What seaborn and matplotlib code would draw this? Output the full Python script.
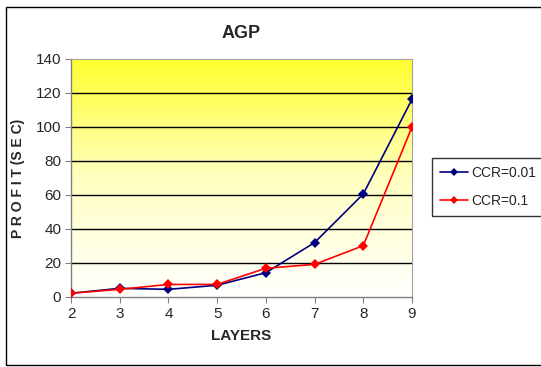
import numpy as np
import pandas as pd
import matplotlib
matplotlib.use("Agg")
import matplotlib.pyplot as plt
import seaborn as sns
from matplotlib.colors import LinearSegmentedColormap
from matplotlib.patches import Rectangle
from matplotlib.lines import Line2D

layers = [2, 3, 4, 5, 6, 7, 8, 9]
ccr_001 = [2.2, 5.1, 4.5, 6.9, 14.3, 32, 60.6, 116.3]
ccr_01 = [2.2, 4.5, 7.4, 7.4, 16.9, 19.2, 30.2, 100]
series_names = ["CCR=0.01", "CCR=0.1"]
colors = ["#000080", "#FF0000"]

df = pd.DataFrame({
    "layers": layers * 2,
    "profit": ccr_001 + ccr_01,
    "series": [series_names[0]] * len(layers) + [series_names[1]] * len(layers),
})

sns.set_style("white")
plt.rcParams['font.family'] = ['Liberation Sans', 'DejaVu Sans']

fig = plt.figure(figsize=(5.41, 3.67), dpi=100)
ax = fig.add_axes([71/541, 1-297/367, (412-71)/541, (297-59)/367])

# gradient background
cmap = LinearSegmentedColormap.from_list("yw", ["#FFFFFF", "#FFFFC0", "#FFFF30"])
grad = np.linspace(0, 1, 256).reshape(-1, 1)
ax.imshow(grad, cmap=cmap, aspect="auto", extent=[0, 1, 0, 1],
          transform=ax.transAxes, origin="lower", zorder=0)

for v in range(20, 140, 20):
    ax.axhline(v, color="black", lw=1, zorder=1)

sns.lineplot(data=df, x="layers", y="profit", hue="series", palette=colors,
             marker="D", markersize=5, markeredgewidth=0, lw=1.2, ax=ax,
             legend=False, zorder=3)

ax.set_xlim(2, 9)
ax.set_ylim(0, 140)
ax.set_xticks(layers)
ax.set_yticks(range(0, 141, 20))
ax.tick_params(axis="both", direction="out", length=4, width=0.8, color="#808080",
               labelsize=11, pad=3, bottom=True, left=True)
for s in ["left", "bottom"]:
    ax.spines[s].set_color("#808080")
    ax.spines[s].set_linewidth(1)
for s in ["top", "right"]:
    ax.spines[s].set_color("#A0A0A0")
    ax.spines[s].set_linewidth(0.8)

ax.set_xlabel("LAYERS", fontsize=11, fontweight="bold", labelpad=6)
ax.set_ylabel("P R O F I T (S E C)", fontsize=10, fontweight="bold", labelpad=8)
ax.set_title("AGP", fontsize=13, fontweight="bold", pad=15)

handles = [Line2D([], [], color=c, marker="D", markersize=4, lw=1.2, markeredgewidth=0)
           for c in colors]
fig.legend(handles, series_names, loc="center left", bbox_to_anchor=(432/541, 1-187/367),
           frameon=True, fancybox=False, edgecolor="black", fontsize=10,
           handlelength=2.0, borderpad=0.6, labelspacing=1.0, handletextpad=0.2,
           borderaxespad=0.0)

fig.patches.append(Rectangle((6/541, 2/367), 1, 1-9/367, transform=fig.transFigure,
                             fill=False, edgecolor="black", lw=1))

fig.savefig("out.png", dpi=100)
